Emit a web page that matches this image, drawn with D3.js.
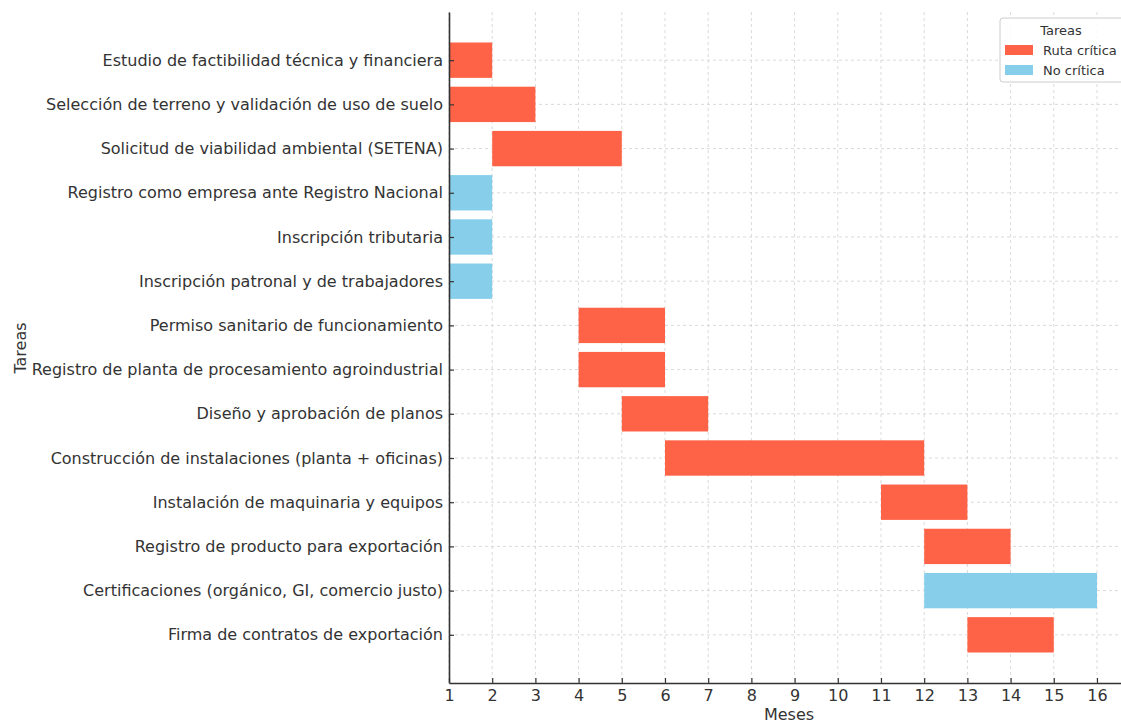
<!DOCTYPE html>
<html>
<head>
<meta charset="utf-8">
<script src="https://cdn.jsdelivr.net/npm/d3@7/dist/d3.min.js"></script>
<style>
  html, body { margin: 0; padding: 0; background: #fff; }
  svg { display: block; font-family: "DejaVu Sans", sans-serif; }
</style>
</head>
<body>
<svg id="chart" width="1121" height="723"></svg>
<script>
const tasks = [
  "Estudio de factibilidad técnica y financiera",
  "Selección de terreno y validación de uso de suelo",
  "Solicitud de viabilidad ambiental (SETENA)",
  "Registro como empresa ante Registro Nacional",
  "Inscripción tributaria",
  "Inscripción patronal y de trabajadores",
  "Permiso sanitario de funcionamiento",
  "Registro de planta de procesamiento agroindustrial",
  "Diseño y aprobación de planos",
  "Construcción de instalaciones (planta + oficinas)",
  "Instalación de maquinaria y equipos",
  "Registro de producto para exportación",
  "Certificaciones (orgánico, GI, comercio justo)",
  "Firma de contratos de exportación"
];
const starts = [1, 1, 2, 1, 1, 1, 4, 4, 5, 6, 11, 12, 12, 13];
const ends   = [2, 3, 5, 2, 2, 2, 6, 6, 7, 12, 13, 14, 16, 15];
const types  = ["Ruta crítica", "Ruta crítica", "Ruta crítica", "No crítica", "No crítica", "No crítica",
                "Ruta crítica", "Ruta crítica", "Ruta crítica", "Ruta crítica", "Ruta crítica", "Ruta crítica",
                "No crítica", "Ruta crítica"];
const xTicks = [1, 2, 3, 4, 5, 6, 7, 8, 9, 10, 11, 12, 13, 14, 15, 16];
const legendItems = ["Ruta crítica", "No crítica"];
const legendTitle = "Tareas";
const xLabel = "Meses";
const yLabel = "Tareas";

const colors = { "Ruta crítica": "#FF6347", "No crítica": "#87CEEB" };

const svg = d3.select("#chart");
const pLeft = 449, pRight = 1121, pTop = 12, pBottom = 683;

const x = d3.scaleLinear().domain([1, 16.556]).range([pLeft, pRight]);
const n = tasks.length;
const y = d3.scaleLinear().domain([-1.09, n - 1 + 1.09]).range([pTop, pBottom]);
const barH = y(0.4) - y(-0.4);

const data = tasks.map((t, i) => ({ task: t, start: starts[i], end: ends[i], type: types[i], i }));

const textColor = "#333";
const fontSize = "16px";

// grid
const grid = svg.append("g");
grid.selectAll("line.vx").data(xTicks).join("line")
  .attr("x1", d => x(d)).attr("x2", d => x(d))
  .attr("y1", pTop).attr("y2", pBottom)
  .attr("stroke", "#d0d0d0").attr("stroke-width", 0.8).attr("stroke-dasharray", "3,3");
grid.selectAll("line.hy").data(data).join("line")
  .attr("x1", pLeft).attr("x2", pRight)
  .attr("y1", d => y(d.i)).attr("y2", d => y(d.i))
  .attr("stroke", "#d0d0d0").attr("stroke-width", 0.8).attr("stroke-dasharray", "3,3");

// bars
svg.append("g").selectAll("rect").data(data).join("rect")
  .attr("x", d => x(d.start))
  .attr("width", d => x(d.end) - x(d.start))
  .attr("y", d => y(d.i) - barH / 2)
  .attr("height", barH)
  .attr("fill", d => colors[d.type]);

// x axis
const xAxis = d3.axisBottom(x).tickValues(xTicks).tickSizeInner(-5).tickSizeOuter(0).tickPadding(7);
const gx = svg.append("g").attr("transform", `translate(0,${pBottom})`).call(xAxis);
gx.select(".domain").attr("stroke", "#333").attr("stroke-width", 1.6);
gx.selectAll(".tick line").attr("stroke", "#333").attr("stroke-width", 1.2);
gx.selectAll(".tick text").attr("fill", textColor).style("font-size", fontSize).style("font-family", "DejaVu Sans");

// y axis
const yAxis = d3.axisLeft(y).tickValues(d3.range(n)).tickFormat(i => tasks[i]).tickSizeInner(-5).tickSizeOuter(0).tickPadding(6);
const gy = svg.append("g").attr("transform", `translate(${pLeft},0)`).call(yAxis);
gy.select(".domain").attr("stroke", "#333").attr("stroke-width", 1.6);
gy.selectAll(".tick line").attr("stroke", "#333").attr("stroke-width", 1.2);
gy.selectAll(".tick text").attr("fill", textColor).style("font-size", fontSize).style("font-family", "DejaVu Sans");

// axis labels
svg.append("text").attr("x", 789).attr("y", 720).attr("text-anchor", "middle")
  .attr("fill", textColor).style("font-size", fontSize).text(xLabel);
svg.append("text").attr("transform", "translate(26,348) rotate(-90)").attr("text-anchor", "middle")
  .attr("fill", textColor).style("font-size", fontSize).text(yLabel);

// legend
const lg = svg.append("g").attr("transform", "translate(1000,18)");
lg.append("rect").attr("x", 0).attr("y", 0).attr("width", 125).attr("height", 64).attr("rx", 3)
  .attr("fill", "#fff").attr("fill-opacity", 0.85).attr("stroke", "#ccc");
lg.append("text").attr("x", 61).attr("y", 17).attr("text-anchor", "middle")
  .attr("fill", textColor).style("font-size", "13px").text(legendTitle);
const items = lg.selectAll("g.item").data(legendItems).join("g")
  .attr("transform", (d, i) => `translate(5,${27 + i * 20})`);
items.append("rect").attr("width", 28).attr("height", 10).attr("fill", d => colors[d]);
items.append("text").attr("x", 38).attr("y", 10).attr("fill", textColor)
  .style("font-size", "13px").text(d => d);
</script>
</body>
</html>
